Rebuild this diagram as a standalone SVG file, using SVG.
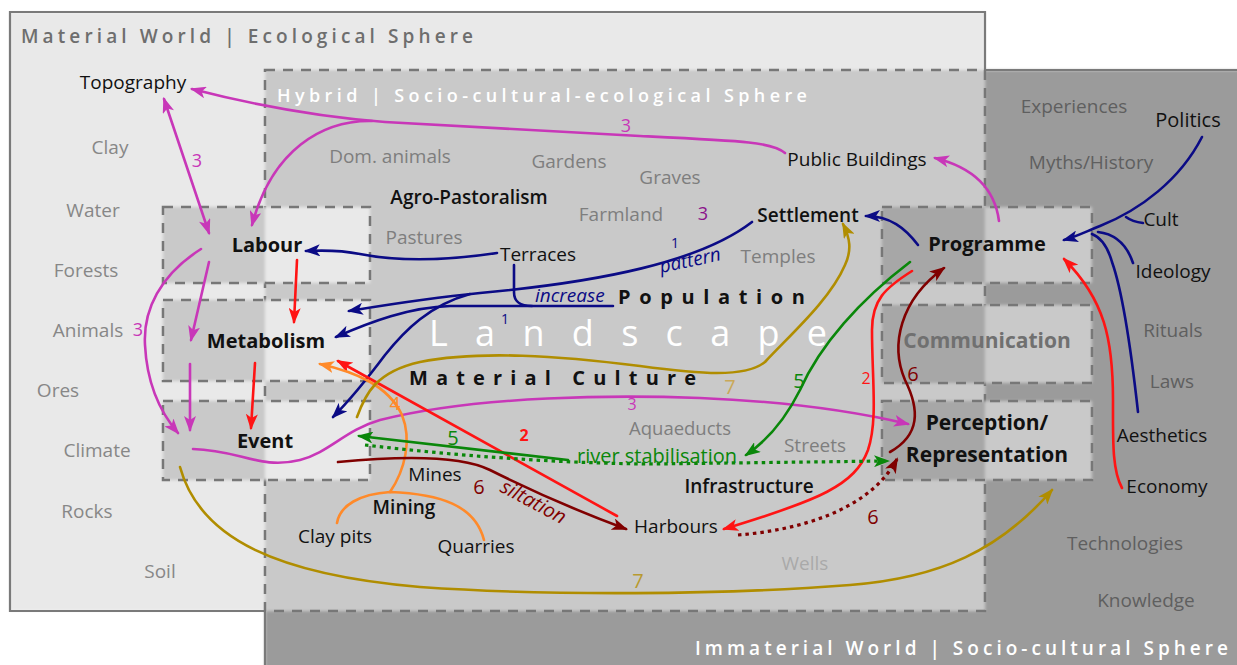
<svg xmlns="http://www.w3.org/2000/svg" width="1237" height="665" viewBox="0 0 1237 665">
<defs>
<style>
text{font-family:"Open Sans","Noto Sans","DejaVu Sans",sans-serif}
.m{text-anchor:middle}
.g{fill:#878787;font-size:19px}
.gh{fill:#7e7e7e;font-size:19px}
.gi{fill:#5f5f5f;font-size:19px}
.k{fill:#111;font-size:19px}
.kb{fill:#111;font-size:19px;font-weight:600}
.nb{fill:#111;font-size:20px;font-weight:700}
.nr{font-size:21px;font-weight:700}
.ttl{font-size:19px;font-weight:600}
.c{fill:none;stroke-width:2.6;stroke-linecap:round}
.dot{fill:none;stroke-width:3.2;stroke-dasharray:3.5 4}
.dash{fill:none;stroke:#777;stroke-width:2.5;stroke-dasharray:10 8}
.solid{fill:none;stroke:#7a7a7a;stroke-width:2.2}
.lbl{font-size:19px}
</style>
<filter id="soft" x="-5%" y="-5%" width="110%" height="110%"><feGaussianBlur stdDeviation="1.8"/></filter>
<marker id="aMag" viewBox="0 0 16 12" refX="14" refY="6" markerWidth="16" markerHeight="12" markerUnits="userSpaceOnUse" orient="auto-start-reverse"><path d="M0,0 L16,6 L0,12 L4,6 Z" fill="#c837b8"/></marker>
<marker id="aNav" viewBox="0 0 16 12" refX="14" refY="6" markerWidth="16" markerHeight="12" markerUnits="userSpaceOnUse" orient="auto"><path d="M0,0 L16,6 L0,12 L4,6 Z" fill="#0b0b85"/></marker>
<marker id="aRed" viewBox="0 0 16 12" refX="14" refY="6" markerWidth="16" markerHeight="12" markerUnits="userSpaceOnUse" orient="auto"><path d="M0,0 L16,6 L0,12 L4,6 Z" fill="#ff1414"/></marker>
<marker id="aOra" viewBox="0 0 16 12" refX="14" refY="6" markerWidth="16" markerHeight="12" markerUnits="userSpaceOnUse" orient="auto"><path d="M0,0 L16,6 L0,12 L4,6 Z" fill="#ff8a2a"/></marker>
<marker id="aGrn" viewBox="0 0 16 12" refX="14" refY="6" markerWidth="16" markerHeight="12" markerUnits="userSpaceOnUse" orient="auto"><path d="M0,0 L16,6 L0,12 L4,6 Z" fill="#0a870a"/></marker>
<marker id="aDrd" viewBox="0 0 16 12" refX="14" refY="6" markerWidth="16" markerHeight="12" markerUnits="userSpaceOnUse" orient="auto"><path d="M0,0 L16,6 L0,12 L4,6 Z" fill="#800000"/></marker>
<marker id="aGld" viewBox="0 0 16 12" refX="14" refY="6" markerWidth="16" markerHeight="12" markerUnits="userSpaceOnUse" orient="auto"><path d="M0,0 L16,6 L0,12 L4,6 Z" fill="#b08d00"/></marker>
</defs>

<rect x="0" y="0" width="1237" height="665" fill="#fff"/>

<!-- region fills -->
<g id="regions" filter="url(#soft)">
<rect x="265" y="70" width="1000" height="620" fill="#9b9b9b"/>
<rect x="10" y="12" width="975" height="599" fill="#e9e9e9"/>
<rect x="265" y="70" width="720" height="541" fill="#c9c9c9"/>
</g>
<g id="region-borders">
<path class="solid" d="M265,611 H10 V12 H985 V70"/>
<path class="solid" d="M985,70 H1240 M265,611 V668"/>
<rect class="dash" x="265" y="70" width="720" height="541"/>
</g>

<!-- region titles -->
<text class="ttl" x="21" y="43" fill="#6e6e6e" textLength="452" lengthAdjust="spacing">Material World | Ecological Sphere</text>
<text class="ttl" x="277" y="102" fill="#fff" style="font-size:18px" textLength="530" lengthAdjust="spacing">Hybrid | Socio-cultural-ecological Sphere</text>
<text class="ttl" x="695" y="655" fill="#fff" textLength="533" lengthAdjust="spacing">Immaterial World | Socio-cultural Sphere</text>

<!-- key boxes -->
<g id="labour">
<g filter="url(#soft)"><rect x="163" y="207" width="102" height="76" fill="#c9c9c9"/><rect x="265" y="207" width="105" height="76" fill="#e9e9e9"/></g>
<rect class="dash" x="163" y="207" width="207" height="76"/>
<text class="nb m" x="267" y="252">Labour</text>
</g>
<g id="metabolism">
<g filter="url(#soft)"><rect x="163" y="300" width="102" height="81" fill="#c9c9c9"/><rect x="265" y="300" width="105" height="81" fill="#e9e9e9"/></g>
<rect class="dash" x="163" y="300" width="207" height="81"/>
<text class="nb m" x="266" y="348">Metabolism</text>
</g>
<g id="event">
<g filter="url(#soft)"><rect x="163" y="401" width="102" height="79" fill="#c9c9c9"/><rect x="265" y="401" width="105" height="79" fill="#e9e9e9"/></g>
<rect class="dash" x="163" y="401" width="207" height="79"/>
<text class="nb m" x="265" y="448">Event</text>
</g>
<g id="programme">
<g filter="url(#soft)"><rect x="882" y="207" width="103" height="76" fill="#a7a7a7"/><rect x="985" y="207" width="107" height="76" fill="#c9c9c9"/></g>
<rect class="dash" x="882" y="207" width="210" height="76"/>
<text class="nb m" x="987" y="251">Programme</text>
</g>
<g id="communication">
<g filter="url(#soft)"><rect x="882" y="305" width="103" height="78" fill="#a7a7a7"/><rect x="985" y="305" width="107" height="78" fill="#c9c9c9"/></g>
<rect class="dash" x="882" y="305" width="210" height="78"/>
<text class="nr m" x="987" y="348" fill="#707070">Communication</text>
</g>
<g id="perception">
<g filter="url(#soft)"><rect x="882" y="401" width="103" height="79" fill="#a7a7a7"/><rect x="985" y="401" width="107" height="79" fill="#c9c9c9"/></g>
<rect class="dash" x="882" y="401" width="210" height="79"/>
<text class="nr m" x="987" y="430" fill="#111">Perception/</text>
<text class="nr m" x="987" y="462" fill="#111">Representation</text>
</g>

<!-- material world items -->
<g id="topography"><text class="k m" x="133" y="89">Topography</text></g>
<g id="clay"><text class="g m" x="110" y="154">Clay</text></g>
<g id="water"><text class="g m" x="93" y="217">Water</text></g>
<g id="forests"><text class="g m" x="86" y="277">Forests</text></g>
<g id="animals"><text class="g m" x="88" y="337">Animals</text></g>
<g id="ores"><text class="g m" x="58" y="397">Ores</text></g>
<g id="climate"><text class="g m" x="97" y="457">Climate</text></g>
<g id="rocks"><text class="g m" x="87" y="518">Rocks</text></g>
<g id="soil"><text class="g m" x="160" y="578">Soil</text></g>

<!-- hybrid items -->
<g id="dom-animals"><text class="gh m" x="390" y="163">Dom. animals</text></g>
<g id="gardens"><text class="gh m" x="569" y="168">Gardens</text></g>
<g id="graves"><text class="gh m" x="670" y="184">Graves</text></g>
<g id="farmland"><text class="gh m" x="621" y="221">Farmland</text></g>
<g id="pastures"><text class="gh m" x="424" y="244">Pastures</text></g>
<g id="temples"><text class="gh m" x="778" y="263">Temples</text></g>
<g id="aquaeducts"><text class="gh m" x="680" y="435" style="font-size:18.5px">Aquaeducts</text></g>
<g id="streets"><text class="gh m" x="815" y="452">Streets</text></g>
<g id="wells"><text class="m" x="805" y="570" style="fill:#a9a9a9;font-size:19px">Wells</text></g>
<g id="agro"><text class="kb m" x="469" y="204">Agro-Pastoralism</text></g>
<g id="terraces"><text class="k m" x="538" y="261">Terraces</text></g>
<g id="public-buildings"><text class="k m" x="857" y="166">Public Buildings</text></g>
<g id="settlement"><text class="kb m" x="808" y="222">Settlement</text></g>
<g id="population"><text x="618" y="304" style="fill:#111;font-size:20px;font-weight:700" textLength="187" lengthAdjust="spacing">Population</text></g>
<g id="landscape"><text x="429" y="346" style="fill:#fff;font-size:36px" textLength="398" lengthAdjust="spacing">Landscape</text></g>
<g id="material-culture"><text x="409" y="385" style="fill:#111;font-size:20px;font-weight:700" textLength="287" lengthAdjust="spacing">Material Culture</text></g>
<g id="mines"><text class="k m" x="435" y="481">Mines</text></g>
<g id="mining"><text class="kb m" x="404" y="514">Mining</text></g>
<g id="clay-pits"><text class="k m" x="335" y="543">Clay pits</text></g>
<g id="quarries"><text class="k m" x="476" y="553">Quarries</text></g>
<g id="infrastructure"><text class="kb m" x="749" y="493">Infrastructure</text></g>
<g id="harbours"><text class="k m" x="676" y="533">Harbours</text></g>

<!-- immaterial items -->
<g id="experiences"><text class="gi m" x="1074" y="113">Experiences</text></g>
<g id="myths"><text class="gi m" x="1091" y="169">Myths/History</text></g>
<g id="politics"><text class="m" x="1188" y="127" style="fill:#111;font-size:20px">Politics</text></g>
<g id="cult"><text class="k m" x="1161" y="226">Cult</text></g>
<g id="ideology"><text class="k m" x="1173" y="278">Ideology</text></g>
<g id="rituals"><text class="gi m" x="1173" y="337">Rituals</text></g>
<g id="laws"><text class="gi m" x="1172" y="388">Laws</text></g>
<g id="aesthetics"><text class="k m" x="1162" y="442">Aesthetics</text></g>
<g id="economy"><text class="k m" x="1167" y="493">Economy</text></g>
<g id="technologies"><text class="gi m" x="1125" y="550">Technologies</text></g>
<g id="knowledge"><text class="gi m" x="1146" y="607">Knowledge</text></g>

<!-- connectors -->
<g id="connectors">
<!-- magenta -->
<g stroke="#c837b8">
<path class="c" d="M785,153 C772,142 745,141 640,136 C540,131 440,125 385,122 C320,117 250,104 192,89" marker-end="url(#aMag)"/>
<path class="c" d="M372,121 C322,120 272,150 252,225" marker-end="url(#aMag)"/>
<path class="c" d="M164,99 L209,233" marker-start="url(#aMag)" marker-end="url(#aMag)"/>
<path class="c" d="M209,262 L191,340" marker-end="url(#aMag)"/>
<path class="c" d="M190,364 L190,430" marker-end="url(#aMag)"/>
<path class="c" d="M201,249 C160,275 143,310 145,345 C147,385 160,412 178,433" marker-end="url(#aMag)"/>
<path class="c" d="M193,449 C240,450 260,470 300,460 C330,452 345,430 380,420 C480,395 620,395 700,398 C800,402 870,415 908,424" marker-end="url(#aMag)"/>
<path class="c" d="M999,221 C995,190 975,168 935,158" marker-end="url(#aMag)"/>
</g>
<!-- navy -->
<g stroke="#0b0b85">
<path class="c" d="M497,253 C450,260 400,262 360,254 C340,250 325,250 306,251" marker-end="url(#aNav)"/>
<path class="c" d="M514,265 L514,292 C514,302 520,306 532,306"/>
<path class="c" d="M752,222 C700,262 600,282 480,293 C420,299 380,306 349,311" marker-end="url(#aNav)"/>
<path class="c" d="M613,306 L450,306 C410,307 370,322 336,337" marker-end="url(#aNav)"/>
<path class="c" d="M470,294 C430,305 405,330 385,355 C370,375 350,400 333,417" marker-end="url(#aNav)"/>
<path class="c" d="M918,245 C905,228 890,216 866,216" marker-end="url(#aNav)"/>
<path class="c" d="M1202,137 C1180,180 1140,210 1100,226 C1085,232 1075,237 1064,240" marker-end="url(#aNav)"/>
<path class="c" d="M1143,223 C1135,222 1130,220 1126,217"/>
<path class="c" d="M1133,263 C1127,245 1115,234 1098,232"/>
<path class="c" d="M1138,412 C1130,340 1122,290 1112,262 C1108,248 1102,238 1092,234"/>
</g>
<!-- red -->
<g stroke="#ff1414">
<path class="c" d="M297,260 L294,322" marker-end="url(#aRed)"/>
<path class="c" d="M255,363 L251,428" marker-end="url(#aRed)"/>
<path class="c" d="M617,516 L338,361" marker-end="url(#aRed)"/>
<path class="c" d="M912,271 C885,288 872,300 872,330 C872,380 878,420 868,450 C855,485 820,500 724,529" marker-end="url(#aRed)"/>
<path class="c" d="M1122,488 C1112,470 1113,440 1113,400 C1113,340 1105,300 1064,259" marker-end="url(#aRed)"/>
</g>
<!-- orange -->
<g stroke="#ff8a2a">
<path class="c" d="M390,492 C405,470 412,440 402,415 C388,385 355,372 320,364" marker-end="url(#aOra)"/>
<path class="c" d="M337,523 C340,505 360,494 390,492 C440,494 475,505 484,540"/>
</g>
<!-- green -->
<g stroke="#0a870a">
<path class="c" d="M910,262 C860,300 820,345 800,390 C785,420 768,440 746,455" marker-end="url(#aGrn)"/>
<path class="c" d="M568,460 L359,436" marker-end="url(#aGrn)"/>
<path class="dot" d="M365,445 C450,455 550,463 650,464 L888,461" marker-end="url(#aGrn)"/>
</g>
<!-- dark red -->
<g stroke="#800000">
<path class="c" d="M338,462 C400,456 460,455 490,470 C530,490 580,512 626,529" marker-end="url(#aDrd)"/>
<path class="c" d="M890,452 C920,435 920,410 905,380 C890,345 900,300 944,268" marker-end="url(#aDrd)"/>
<path class="dot" d="M738,535 C800,530 870,510 897,459" marker-end="url(#aDrd)"/>
</g>
<!-- gold -->
<g stroke="#b08d00">
<path class="c" d="M357,417 C365,395 375,372 420,362 C480,350 560,356 640,366 C700,374 745,378 765,362 C790,335 830,300 845,265 C852,250 850,238 843,224" marker-end="url(#aGld)"/>
<path class="c" d="M180,467 C200,540 280,575 420,587 C550,596 720,595 850,585 C940,578 1000,550 1052,490" marker-end="url(#aGld)"/>
</g>

<!-- connector labels -->
<text class="lbl m" x="197" y="167" fill="#c837b8" style="font-size:18px">3</text>
<text class="lbl m" x="626" y="132" fill="#c837b8" style="font-size:18px">3</text>
<text class="lbl m" x="703" y="220" fill="#8b128b" style="font-size:18px">3</text>
<text class="lbl m" x="138" y="336" fill="#c837b8" style="font-size:18px">3</text>
<text class="lbl m" x="632" y="410" fill="#c837b8" style="font-size:16px">3</text>
<text class="m" x="675" y="248" fill="#0b0b85" style="font-size:14px">1</text>
<text x="661" y="273" fill="#0b0b85" style="font-size:19px;font-style:italic" transform="rotate(-12 661 273)">pattern</text>
<text x="535" y="302" fill="#0b0b85" style="font-size:19px;font-style:italic">increase</text>
<text class="m" x="505" y="324" fill="#0b0b85" style="font-size:14px">1</text>
<text class="m" x="524" y="441" fill="#ff1414" style="font-size:16px;font-weight:700">2</text>
<text class="m" x="866" y="384" fill="#ff1414" style="font-size:16px">2</text>
<text class="m" x="395" y="410" fill="#ff8a2a" style="font-size:19px">4</text>
<text class="m" x="453" y="445" fill="#0a870a" style="font-size:20px">5</text>
<text class="m" x="799" y="388" fill="#0a870a" style="font-size:20px">5</text>
<text x="577" y="463" fill="#0a870a" style="font-size:20px">river stabilisation</text>
<text class="m" x="479" y="494" fill="#800000" style="font-size:20px">6</text>
<text x="499" y="491" fill="#800000" style="font-size:20px;font-style:italic" transform="rotate(28 499 491)">siltation</text>
<text class="m" x="913" y="381" fill="#800000" style="font-size:20px">6</text>
<text class="m" x="873" y="524" fill="#800000" style="font-size:20px">6</text>
<text class="m" x="730" y="394" fill="#c9a858" style="font-size:20px">7</text>
<text class="m" x="638" y="588" fill="#b89a30" style="font-size:20px">7</text>
</g>
</svg>
